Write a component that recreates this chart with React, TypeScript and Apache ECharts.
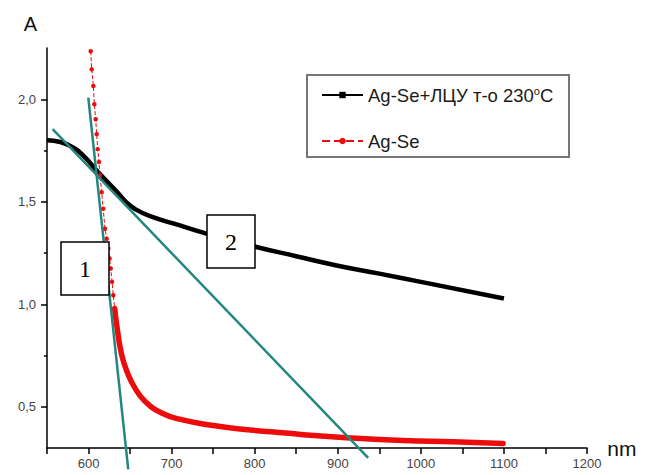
import React, { useEffect, useRef } from "react";
import * as echarts from "echarts";

// ---- data ----
const SERIES_BLACK = "Ag-Se+ЛЦУ т-о 230°C";
const SERIES_RED = "Ag-Se";

const BLACK_X = [550, 566, 581.6, 593.7, 611.7, 622, 633.9, 645, 656, 674, 710, 742, 802, 850, 898.6, 950, 1000, 1100];
const BLACK_A = [1.8, 1.792, 1.765, 1.725, 1.644, 1.6, 1.55, 1.5, 1.465, 1.43, 1.385, 1.345, 1.28, 1.235, 1.19, 1.15, 1.11, 1.029];

const RED_DOT_X = [602.6, 603.8, 605.8, 607, 608.6, 609.8, 611, 612.6, 613.8, 615.8, 617.7, 619.8, 621.8, 623.8, 625.3, 626.7, 628.3, 629.8, 631.5];
const RED_DOT_A = [2.234, 2.146, 2.065, 1.976, 1.903, 1.83, 1.757, 1.694, 1.628, 1.547, 1.466, 1.369, 1.32, 1.272, 1.224, 1.175, 1.11, 1.045, 0.98];

const RED_X = [631.5, 633.9, 639.9, 647.8, 655.9, 667.9, 688, 712, 748.2, 788.3, 820.4, 858.4, 910.6, 978.8, 1038.9, 1099];
const RED_A = [0.98, 0.9, 0.754, 0.657, 0.592, 0.528, 0.471, 0.438, 0.411, 0.39, 0.379, 0.365, 0.35, 0.336, 0.33, 0.322];

const TANGENT1_X = [599.7, 647.8];
const TANGENT1_A = [2.008, 0.196];
const TANGENT2_X = [556.8, 936.6];
const TANGENT2_A = [1.854, 0.252];

const X_LABELS = [600, 700, 800, 900, 1000, 1100, 1200];
const X_TICKS = [550, 600, 650, 700, 750, 800, 850, 900, 950, 1000, 1050, 1100, 1150, 1200];
const Y_LABELS = [0.5, 1.0, 1.5, 2.0];
const Y_MINOR = [0.75, 1.25, 1.75];

const zip = (xs: number[], ys: number[]) => xs.map((x, i) => [x, ys[i]]);

const FONT = "Liberation Sans, Arial, sans-serif";
const TEAL = "#24877f";
const RED = "#ec0c0c";

export default function App() {
  const ref = useRef<HTMLDivElement>(null);
  useEffect(() => {
    const chart = echarts.init(ref.current!, null, { renderer: "svg" });
    const option: any = {
      animation: false,
      backgroundColor: "#ffffff",
      textStyle: { fontFamily: FONT },
      grid: { left: 47, right: 58, top: 48, bottom: 27, outerBoundsMode: "none" },
      xAxis: {
        type: "value",
        min: 550,
        max: 1200,
        name: "nm",
        nameLocation: "end",
        nameGap: 20,
        nameTextStyle: { fontSize: 21, color: "#111", fontFamily: FONT, verticalAlign: "middle" },
        axisLine: { show: true, onZero: false, lineStyle: { color: "#000", width: 1.5 } },
        axisTick: { show: true, customValues: X_TICKS, length: 6, lineStyle: { color: "#000", width: 1.5 } },
        axisLabel: {
          customValues: X_LABELS,
          margin: 9,
          fontSize: 13,
          color: "#444",
          fontFamily: FONT,
          formatter: (v: number) => String(v),
        },
        splitLine: { show: false },
      },
      yAxis: [
        {
          type: "value",
          min: 0.3,
          max: 2.25,
          name: "A",
          nameLocation: "end",
          nameGap: 24,
          nameTextStyle: { fontSize: 20, color: "#111", fontFamily: FONT, align: "right", verticalAlign: "middle", padding: [0, 10, 0, 0] },
          axisLine: { show: true, onZero: false, lineStyle: { color: "#000", width: 1.5 } },
          axisTick: { show: true, customValues: Y_LABELS, length: 6, lineStyle: { color: "#000", width: 1.5 } },
          axisLabel: {
            customValues: Y_LABELS,
            margin: 11,
            fontSize: 13,
            color: "#444",
            fontFamily: FONT,
            formatter: (v: number) => v.toFixed(1).replace(".", ","),
          },
          splitLine: { show: false },
        },
        {
          type: "value",
          min: 0.3,
          max: 2.25,
          position: "left",
          axisLine: { show: false },
          axisTick: { show: true, customValues: Y_MINOR, length: 3, lineStyle: { color: "#000", width: 1.5 } },
          axisLabel: { show: false },
          splitLine: { show: false },
        },
      ],
      legend: {
        left: 321,
        top: 85,
        orient: "vertical",
        itemWidth: 41,
        itemHeight: 8,
        itemGap: 27,
        padding: 0,
        data: [SERIES_BLACK, SERIES_RED],
        textStyle: {
          fontSize: 18.5,
          color: "#1a1a1a",
          fontFamily: FONT,
          rich: { sup: { fontSize: 11, verticalAlign: "top", padding: [0, 0, 9, 0], color: "#1a1a1a", fontFamily: FONT } },
        },
        formatter: (name: string) => (name === SERIES_BLACK ? "Ag-Se+ЛЦУ т-о 230{sup|o}C" : name),
        z: 10,
      },
      graphic: [
        {
          type: "rect",
          shape: { x: 307, y: 75, width: 262, height: 82 },
          style: { fill: "#fff", stroke: "#777", lineWidth: 2 },
          z: 5,
        },
        {
          type: "group",
          z: 100,
          children: [
            { type: "rect", shape: { x: 61, y: 242, width: 48, height: 53 }, style: { fill: "#fff", stroke: "#000", lineWidth: 1.5 }, z: 100 },
            { type: "text", x: 85, y: 269, style: { text: "1", font: "24px Liberation Serif, Times New Roman, serif", fill: "#000", align: "center", verticalAlign: "middle" }, z: 101 },
            { type: "rect", shape: { x: 207, y: 215, width: 48, height: 53 }, style: { fill: "#fff", stroke: "#000", lineWidth: 1.5 }, z: 100 },
            { type: "text", x: 231, y: 242, style: { text: "2", font: "24px Liberation Serif, Times New Roman, serif", fill: "#000", align: "center", verticalAlign: "middle" }, z: 101 },
          ],
        },
      ],
      series: [
        {
          name: SERIES_BLACK,
          type: "line",
          data: zip(BLACK_X, BLACK_A),
          smooth: 0.5,
          symbol: "rect",
          symbolSize: 6,
          showSymbol: false,
          lineStyle: { color: "#000", width: 4.5 },
          itemStyle: { color: "#000" },
          z: 3,
        },
        {
          name: SERIES_RED,
          type: "line",
          data: zip(RED_DOT_X, RED_DOT_A),
          symbol: "circle",
          symbolSize: 4.5,
          showSymbol: true,
          lineStyle: { color: RED, width: 1, type: "dashed" },
          itemStyle: { color: RED },
          z: 3,
        },
        {
          name: SERIES_RED + " (dense)",
          type: "line",
          data: zip(RED_X, RED_A),
          smooth: 0.5,
          showSymbol: false,
          symbol: "none",
          lineStyle: { color: RED, width: 5.5, cap: "round" },
          z: 3,
        },
        {
          name: "tangent 1",
          type: "line",
          data: zip(TANGENT1_X, TANGENT1_A),
          clip: false,
          showSymbol: false,
          symbol: "none",
          lineStyle: { color: TEAL, width: 2.5 },
          z: 4,
        },
        {
          name: "tangent 2",
          type: "line",
          data: zip(TANGENT2_X, TANGENT2_A),
          clip: false,
          showSymbol: false,
          symbol: "none",
          lineStyle: { color: TEAL, width: 2.5 },
          z: 4,
        },
      ],
    };
    chart.setOption(option);
    return () => chart.dispose();
  }, []);
  return (
    <div
      ref={ref}
      style={{ position: "fixed", left: 0, top: 0, width: 645, height: 475, background: "#fff" }}
    />
  );
}
